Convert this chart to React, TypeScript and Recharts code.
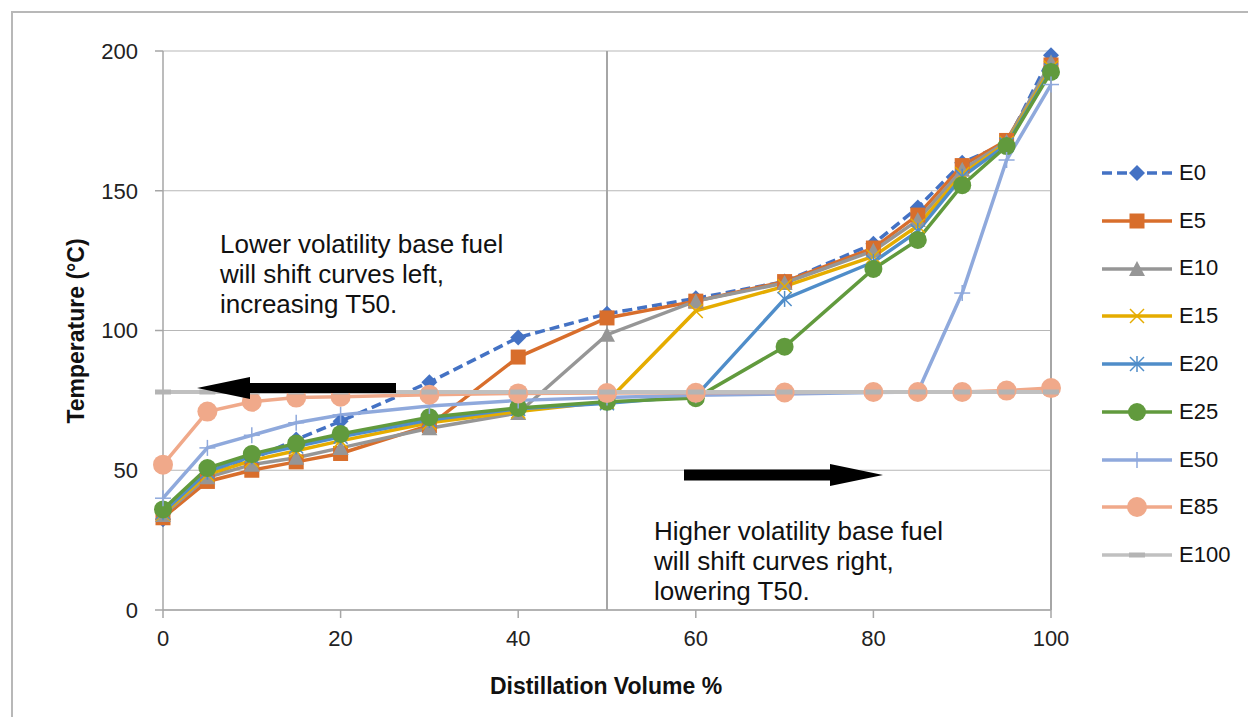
import { LineChart, Line, XAxis, YAxis, CartesianGrid, ReferenceLine } from "recharts";

// distillation volume (%) sample points
const volume = [0, 5, 10, 15, 20, 30, 40, 50, 60, 70, 80, 85, 90, 95, 100];

// temperatures (°C) per blend
const e0 = [32.5, 48, 54, 61, 67.5, 81.5, 97.5, 106, 111.5, 117.5, 131, 144, 160, 167, 198.5];
const e5 = [33, 46, 50, 53, 56, 66, 90.5, 104.5, 110.5, 117.5, 129.5, 141.3, 159, 168, 195];
const e10 = [34, 47.5, 52, 54.5, 58, 65, 70.5, 98.5, 110.5, 117, 128.5, 139.5, 157.5, 167.5, 196];
const e15 = [34.5, 48.5, 53.5, 57, 60.5, 67, 71, 74.5, 107, 115.8, 126.5, 137.5, 156, 167, 194];
const e20 = [35, 49.5, 55, 58.5, 62, 68, 72, 74, 76.5, 111.3, 124.5, 135.5, 155, 166.5, 193];
const e25 = [36, 50.8, 55.8, 59.6, 63, 69, 72.3, 74.5, 75.8, 94.2, 122, 132.4, 152, 166, 192.5];
const e50 = [40, 58, 62.5, 67, 69.8, 73, 75, 76, 76.8, 77.3, 77.8, 78, 113.4, 161, 188];
const e85 = [52, 71, 74.5, 76, 76.3, 77, 77.5, 77.6, 77.7, 77.8, 78, 78, 78, 78.5, 79.4];
const e100 = [78, 78, 78, 78, 78, 78, 78, 78, 78, 78, 78, 78, 78, 78, 78];

const xTicks = [0, 20, 40, 60, 80, 100];
const yTicks = [0, 50, 100, 150, 200];

const series = [
  { key: "E0", values: e0, color: "#4472C4", marker: "diamond", dash: "10 5" },
  { key: "E5", values: e5, color: "#D86E2C", marker: "square" },
  { key: "E10", values: e10, color: "#969696", marker: "triangle" },
  { key: "E15", values: e15, color: "#E5AC00", marker: "x" },
  { key: "E20", values: e20, color: "#4F8DC9", marker: "star" },
  { key: "E25", values: e25, color: "#619A3D", marker: "circle" },
  { key: "E50", values: e50, color: "#8FA9DC", marker: "plus" },
  { key: "E85", values: e85, color: "#F0A98A", marker: "bigcircle" },
  { key: "E100", values: e100, color: "#C0C0C0", marker: "dash" },
];

const data = volume.map((v, i) => {
  const row: any = { volume: v };
  series.forEach((s) => (row[s.key] = s.values[i]));
  return row;
});

const FONT = "'Liberation Sans', Arial, sans-serif";

function Marker({ shape, cx, cy, color }: any) {
  switch (shape) {
    case "diamond":
      return <polygon points={`${cx},${cy - 8} ${cx + 8},${cy} ${cx},${cy + 8} ${cx - 8},${cy}`} fill={color} />;
    case "square":
      return <rect x={cx - 7.5} y={cy - 7.5} width={15} height={15} fill={color} />;
    case "triangle":
      return <polygon points={`${cx},${cy - 8} ${cx + 8},${cy + 7} ${cx - 8},${cy + 7}`} fill={color} />;
    case "x":
      return (
        <g stroke={color} strokeWidth={1.5}>
          <line x1={cx - 7} y1={cy - 7} x2={cx + 7} y2={cy + 7} />
          <line x1={cx - 7} y1={cy + 7} x2={cx + 7} y2={cy - 7} />
        </g>
      );
    case "star":
      return (
        <g stroke={color} strokeWidth={1.5}>
          <line x1={cx - 7} y1={cy - 7} x2={cx + 7} y2={cy + 7} />
          <line x1={cx - 7} y1={cy + 7} x2={cx + 7} y2={cy - 7} />
          <line x1={cx} y1={cy - 8} x2={cx} y2={cy + 8} />
        </g>
      );
    case "circle":
      return <circle cx={cx} cy={cy} r={9} fill={color} />;
    case "plus":
      return (
        <g stroke={color} strokeWidth={1.5}>
          <line x1={cx} y1={cy - 8} x2={cx} y2={cy + 8} />
          <line x1={cx - 8} y1={cy} x2={cx + 8} y2={cy} />
        </g>
      );
    case "bigcircle":
      return <circle cx={cx} cy={cy} r={10} fill={color} />;
    case "dash":
      return <line x1={cx - 8} y1={cy} x2={cx + 8} y2={cy} stroke="#B4B4B4" strokeWidth={5} />;
    default:
      return null;
  }
}

function LegendBox() {
  return (
    <div style={{ position: "absolute", left: 1095, top: 149, fontFamily: FONT, fontSize: 22, color: "#111" }}>
      {series.map((s) => (
        <div key={s.key} style={{ display: "flex", alignItems: "center", height: 47.8 }}>
          <svg width={84} height={48}>
            <line x1={7} y1={24} x2={77} y2={24} stroke={s.color} strokeWidth={3.5} strokeDasharray={s.dash} />
            <Marker shape={s.marker} cx={42} cy={24} color={s.color} />
          </svg>
          <span>{s.key}</span>
        </div>
      ))}
    </div>
  );
}

function Arrow({ x1, x2, y, dir }: any) {
  const head = 53;
  if (dir === "left") {
    return (
      <g fill="#000">
        <rect x={x1 + head - 2} y={y - 5} width={x2 - x1 - head + 2} height={10} />
        <polygon points={`${x1},${y} ${x1 + head},${y - 11} ${x1 + head},${y + 11}`} />
      </g>
    );
  }
  return (
    <g fill="#000">
      <rect x={x1} y={y - 5.5} width={x2 - x1 - head + 2} height={11} />
      <polygon points={`${x2},${y} ${x2 - head},${y - 11} ${x2 - head},${y + 11}`} />
    </g>
  );
}

export default function App() {
  return (
    <div style={{ position: "relative", width: 1248, height: 717, overflow: "hidden", background: "#fff" }}>
      <style>{`html,body{margin:0;padding:0;overflow:hidden;}`}</style>
      <div
        style={{
          position: "absolute",
          left: 11,
          top: 11,
          width: 1250,
          height: 720,
          borderLeft: "2px solid #B8B8B8",
          borderTop: "2px solid #B8B8B8",
        }}
      />
      <div style={{ position: "absolute", left: 0, top: 0 }}>
        <LineChart
          width={1248}
          height={717}
          data={data}
          margin={{ top: 51, right: 197, left: 103, bottom: 67 }}
        >
          <CartesianGrid vertical={false} stroke="#B7B7B7" strokeWidth={1.2} />
          <XAxis
            dataKey="volume"
            type="number"
            domain={[0, 100]}
            ticks={xTicks}
            height={40}
            tickSize={8}
            tickMargin={12}
            stroke="#A6A6A6"
            strokeWidth={1.5}
            tick={{ fontFamily: FONT, fontSize: 22, fill: "#222" }}
          />
          <YAxis
            type="number"
            domain={[0, 200]}
            ticks={yTicks}
            width={60}
            tickSize={8}
            tickMargin={17}
            stroke="#A6A6A6"
            strokeWidth={1.5}
            tick={{ fontFamily: FONT, fontSize: 22, fill: "#222" }}
          />
          <ReferenceLine x={50} stroke="#A6A6A6" strokeWidth={2} />
          <ReferenceLine x={100} stroke="#A6A6A6" strokeWidth={2} />
          {series.map((s) => (
            <Line
              key={s.key}
              dataKey={s.key}
              stroke={s.color}
              strokeWidth={s.key === "E100" ? 4 : 3.5}
              strokeDasharray={s.dash}
              isAnimationActive={false}
              activeDot={false}
              dot={(p: any) => <Marker key={`${s.key}-${p.index}`} shape={s.marker} cx={p.cx} cy={p.cy} color={s.color} />}
            />
          ))}
        </LineChart>
      </div>
      <LegendBox />
      <svg width={1248} height={717} style={{ position: "absolute", left: 0, top: 0, pointerEvents: "none" }}>
        <Arrow x1={197} x2={396} y={388} dir="left" />
        <Arrow x1={684} x2={883} y={475} dir="right" />
        <g fontFamily={FONT} fontSize={26} fill="#111">
          <text x={220} y={253}>Lower volatility base fuel</text>
          <text x={220} y={283}>will shift curves left,</text>
          <text x={220} y={313}>increasing T50.</text>
          <text x={654} y={540}>Higher volatility base fuel</text>
          <text x={654} y={570}>will shift curves right,</text>
          <text x={654} y={600}>lowering T50.</text>
        </g>
        <text x={606} y={694} textAnchor="middle" fontFamily={FONT} fontSize={23} fontWeight="bold" fill="#111">
          Distillation Volume %
        </text>
        <text
          transform="translate(84,331) rotate(-90)"
          textAnchor="middle"
          fontFamily={FONT}
          fontSize={23}
          fontWeight="bold"
          fill="#111"
        >
          Temperature (°C)
        </text>
      </svg>
    </div>
  );
}
